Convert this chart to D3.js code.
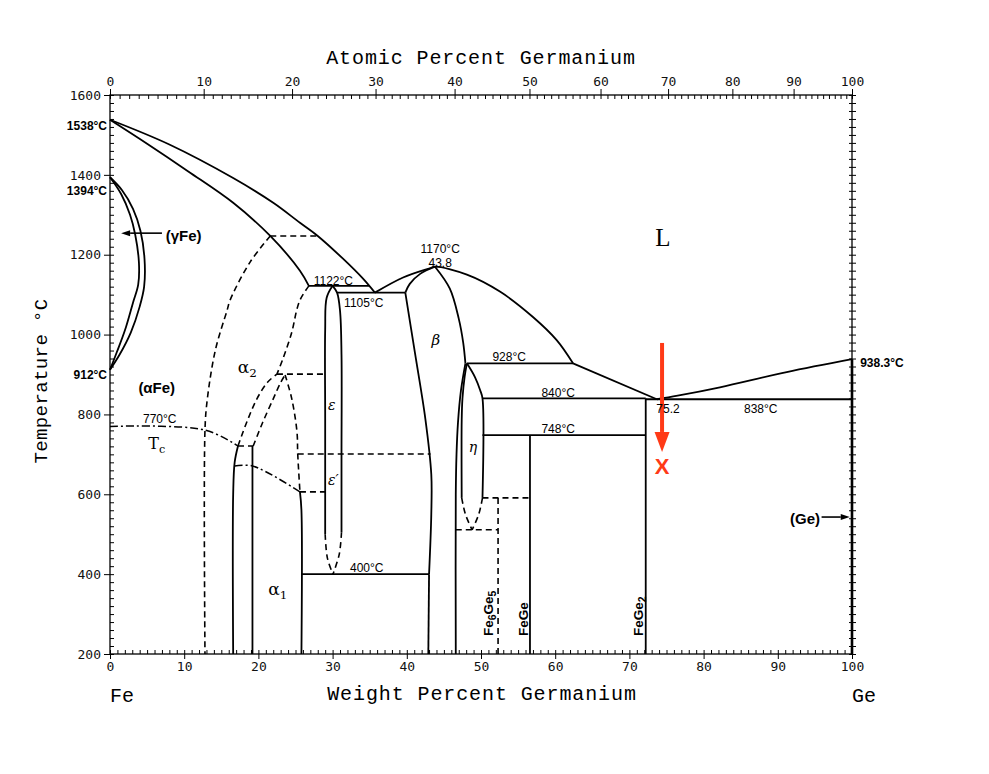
<!DOCTYPE html>
<html><head><meta charset="utf-8">
<script src="https://cdn.jsdelivr.net/npm/d3@7"></script>
<style>body{margin:0;background:#fff;} svg{display:block}</style>
</head><body><svg id="c" width="989" height="774"></svg>
<script>
// ---------- axis ticks ----------
const wtTicks = [0,10,20,30,40,50,60,70,80,90,100];
const atTicks = [0,10,20,30,40,50,60,70,80,90,100];
const tempTicks = [200,400,600,800,1000,1200,1400,1600];

// ---------- phase boundaries : [wt% Ge, °C] ----------
const liquidusFe   = [[0,1538],[8,1476],[16.6,1392],[22,1330],[25.6,1280],[28.0,1247],[31.4,1190],[34.1,1140],[35.7,1105]];
const solidusFe    = [[0,1538],[5,1478],[10.6,1408],[16.6,1330],[21.6,1247],[25.6,1160],[26.8,1122]];
const gammaOuter   = [[0,1394],[1.6,1362],[3.1,1315],[4.1,1260],[4.65,1190],[4.6,1120],[4.0,1070],[2.8,1005],[1.3,950],[0,912]];
const gammaInner   = [[0,1394],[1.5,1352],[2.7,1300],[3.4,1250],[3.9,1180],[3.8,1125],[3.1,1080],[2.0,1010],[0.9,955],[0,912]];
const alphaA       = [[21.6,1247],[18.9,1182],[16.2,1087],[15.8,1062],[14.2,961],[13.1,836],[12.8,761],[12.8,200]];
const alphaB       = [[26.8,1122],[25.7,1090],[25.2,1064],[24.5,1006],[23.3,939],[22.5,901]];
const alphaC1      = [[17.25,721],[18.5,784],[19.8,839],[21.2,880],[22.5,901]];
const alphaC2      = [[19.3,721],[20.6,781],[22.0,839],[23.0,880],[23.6,899]];
const alphaD       = [[23.6,899],[24.5,839],[25.2,756],[25.3,701],[25.6,606]];
const alpha1Right  = [[25.6,606],[25.8,560],[25.8,200]];
const alpha2Left   = [[16.6,200],[16.6,600],[16.8,680],[17.25,721]];
const alpha2Right  = [[19.2,200],[19.2,721]];
const tcLine1      = [[0,770],[12.8,761],[17.25,721]];
const tcLine2      = [[16.8,671],[19.2,671],[25.6,606]];
const iso1247      = [[21.6,1247],[28.0,1247]];
const iso1122      = [[26.8,1122],[34.9,1122]];
const iso1105      = [[30.6,1105],[39.8,1105]];
const iso901       = [[22.5,901],[29.0,901]];
const iso721       = [[17.25,721],[19.3,721]];
const iso701       = [[25.3,701],[43.2,701]];
const iso606       = [[25.6,606],[29.0,606]];
const iso400       = [[25.8,400],[43.0,400]];
const epsLeft      = [[30.0,1122],[29.2,1092],[29.0,1012],[29.0,790],[29.0,500]];
const epsLeftLow   = [[29.0,500],[29.3,440],[30.05,400]];
const epsRight     = [[30.0,1122],[30.6,1105],[31.0,1060],[31.2,950],[31.2,700],[31.2,505]];
const epsRightLow  = [[31.2,505],[30.9,450],[30.05,400]];
const betaSolidus  = [[39.8,1105],[40.4,1127],[41.8,1152],[43.8,1170]];
const betaLeft     = [[39.8,1105],[41.1,954],[42.5,789],[43.3,650],[43.3,550],[43.0,400]];
const betaLeftLow  = [[43.0,400],[42.9,200]];
const liquidusMid  = [[35.7,1105],[39.5,1143],[43.1,1166],[43.8,1170],[48.1,1150],[52.6,1107],[57.0,1044],[60.2,986],[62.4,928]];
const betaRight    = [[43.8,1170],[45.8,1115],[47.0,1040],[47.6,980],[47.9,928]];
const betaEta      = [[47.9,928],[47.3,860],[46.9,780],[46.7,700],[46.6,600],[46.6,200]];
const etaLeft      = [[48.1,928],[47.8,895],[47.5,840],[47.4,786],[47.4,591]];
const etaLeftLow   = [[47.4,591],[47.9,550],[48.8,511]];
const etaRight     = [[48.1,928],[49.2,893],[49.9,860],[50.2,840],[50.2,591]];
const etaRightLow  = [[50.2,591],[49.7,550],[48.8,511]];
const iso928       = [[48.1,928],[62.4,928]];
const liquidusEut  = [[62.4,928],[73.7,838]];
const liquidusGe   = [[73.7,838],[76.5,847],[82.2,868],[91.2,906],[100,938.3]];
const iso840       = [[50.2,840],[72.2,840]];
const iso838       = [[72.2,838],[100,838]];
const iso748       = [[50.2,748],[72.2,748]];
const iso591       = [[50.2,591],[56.6,591]];
const iso511       = [[46.6,511],[52.3,511]];
const fe6ge5Line   = [[52.3,591],[52.3,200]];
const feGeLine     = [[56.6,748],[56.6,200]];
const feGe2Line    = [[72.2,840],[72.2,200]];
const geLine       = [[100,938.3],[100,200]];

// annotation arrows
const gammaArrow = [[7.0,1254],[1.5,1254]];
const geArrow    = [[95.9,543],[99.7,543]];
const redArrow   = [[74.4,979],[74.4,706]];
const redMark    = [74.4,652];

// ---------- drawing ----------
const svg = d3.select('#c');
const X0=110, X1=852, Y0=95, Y1=654;
const x = d3.scaleLinear().domain([0,100]).range([X0,X1]);
const y = d3.scaleLinear().domain([200,1600]).range([Y1,Y0]);
const MFe=55.845, MGe=72.63;
const atToWt = a => a===0?0:(a===100?100:100*a*MGe/(a*MGe+(100-a)*MFe));

const tickFont = "'DejaVu Sans Mono', monospace";
const titleFont = "'Liberation Mono', monospace";
const lblFont = "'Liberation Sans', Arial, sans-serif";

// frame
svg.append('rect').attr('x',X0).attr('y',Y0).attr('width',X1-X0).attr('height',Y1-Y0)
  .attr('fill','none').attr('stroke','#000').attr('stroke-width',1.3);

function styleAxis(g){ g.select('.domain').remove(); g.selectAll('line').attr('stroke','#000').attr('stroke-width',1);
  g.selectAll('text').attr('font-family',tickFont).attr('font-size',13).attr('fill','#111'); }

// bottom
svg.append('g').attr('transform',`translate(0,${Y1})`)
  .call(d3.axisBottom(x).tickValues(d3.range(0,101,1)).tickSize(-4).tickFormat('')).call(styleAxis);
svg.append('g').attr('transform',`translate(0,${Y1})`)
  .call(d3.axisBottom(x).tickValues(wtTicks).tickSize(5).tickPadding(3).tickFormat(d3.format('d'))).call(styleAxis);
// top (atomic percent)
svg.append('g').attr('transform',`translate(0,${Y0})`)
  .call(d3.axisTop(x).tickValues(d3.range(0,101,1).map(atToWt)).tickSize(-4).tickFormat('')).call(styleAxis);
svg.append('g').attr('transform',`translate(0,${Y0})`)
  .call(d3.axisTop(x).tickValues(atTicks.map(atToWt)).tickSize(6).tickPadding(3)
     .tickFormat((d,i)=>atTicks[i])).call(styleAxis);
// left
svg.append('g').attr('transform',`translate(${X0},0)`)
  .call(d3.axisLeft(y).tickValues(d3.range(200,1601,20)).tickSize(-4).tickFormat('')).call(styleAxis);
svg.append('g').attr('transform',`translate(${X0},0)`)
  .call(d3.axisLeft(y).tickValues(tempTicks).tickSize(6).tickPadding(3).tickFormat(d3.format('d'))).call(styleAxis);
// right
svg.append('g').attr('transform',`translate(${X1},0)`)
  .call(d3.axisRight(y).tickValues(d3.range(200,1601,20)).tickSize(4).tickFormat('')).call(styleAxis);
svg.append('g').attr('transform',`translate(${X1},0)`)
  .call(d3.axisLeft(y).tickValues(d3.range(200,1601,20)).tickSize(3).tickFormat('')).call(styleAxis);

// titles
svg.append('text').attr('x',481).attr('y',64).attr('text-anchor','middle').attr('font-family',titleFont)
  .attr('font-size',20).attr('letter-spacing',0.9).text('Atomic Percent Germanium');
svg.append('text').attr('x',482).attr('y',700).attr('text-anchor','middle').attr('font-family',titleFont)
  .attr('font-size',20).attr('letter-spacing',0.9).text('Weight Percent Germanium');
svg.append('text').attr('transform','translate(47,381) rotate(-90)').attr('text-anchor','middle').attr('font-family',titleFont)
  .attr('font-size',19).attr('letter-spacing',0.4).text('Temperature °C');
svg.append('text').attr('x',X0).attr('y',702).attr('font-family',titleFont).attr('font-size',20).text('Fe');
svg.append('text').attr('x',X1).attr('y',702).attr('font-family',titleFont).attr('font-size',20).text('Ge');

// boundaries
const line = d3.line().x(d=>x(d[0])).y(d=>y(d[1])).curve(d3.curveCatmullRom.alpha(0.5));
const solid = [liquidusFe, solidusFe, gammaOuter, gammaInner, alpha1Right, alpha2Left, alpha2Right,
  iso1122, iso1105, iso400, epsLeft, epsRight, betaSolidus, betaLeft, betaLeftLow, liquidusMid, betaRight,
  betaEta, etaLeft, etaRight, iso928, liquidusEut, liquidusGe, iso840, iso838, iso748, feGeLine, feGe2Line];
const dashed = [alphaA, alphaB, alphaC1, alphaC2, alphaD, iso1247, iso901, iso721, iso701, iso606,
  epsLeftLow, epsRightLow, etaLeftLow, etaRightLow, iso591, iso511, fe6ge5Line];
const dashdot = [tcLine1, tcLine2];
const g = svg.append('g').attr('fill','none').attr('stroke','#000').attr('stroke-linejoin','round');
g.selectAll('.s').data(solid).join('path').attr('d',line).attr('stroke-width',1.8);
g.selectAll('.d').data(dashed).join('path').attr('d',line).attr('stroke-width',1.6).attr('stroke-dasharray','6,4');
g.selectAll('.dd').data(dashdot).join('path').attr('d',line).attr('stroke-width',1.5).attr('stroke-dasharray','8,3,2,3');
g.append('path').attr('d',line(geLine)).attr('stroke-width',2.6);

// small arrows
function arrow(pts, color, w, head){
  const [a,b]=pts; const x1=x(a[0]),y1=y(a[1]),x2=x(b[0]),y2=y(b[1]);
  const ang=Math.atan2(y2-y1,x2-x1); const L=head[0], W=head[1];
  const bx=x2-L*Math.cos(ang), by=y2-L*Math.sin(ang);
  svg.append('line').attr('x1',x1).attr('y1',y1).attr('x2',bx).attr('y2',by).attr('stroke',color).attr('stroke-width',w);
  const px=-Math.sin(ang)*W, py=Math.cos(ang)*W;
  svg.append('polygon').attr('points',`${x2},${y2} ${bx+px},${by+py} ${bx-px},${by-py}`).attr('fill',color);
}
arrow(gammaArrow,'#000',1.6,[9,3]);
arrow(geArrow,'#000',1.6,[9,3]);
arrow(redArrow,'#ff3a17',4,[20,7.5]);
svg.append('text').attr('x',x(redMark[0])).attr('y',y(redMark[1])).attr('text-anchor','middle')
  .attr('font-family',lblFont).attr('font-weight','bold').attr('font-size',22).attr('fill','#ff3a17').text('X');

// labels
const labels = [
  ['1538°C',-0.4,1512,'end',12,'bold'],
  ['1394°C',-0.4,1350,'end',12,'bold'],
  ['912°C',-0.4,889,'end',12,'bold'],
  ['938.3°C',101.1,918,'start',12,'bold'],
  ['1122°C',30.1,1125,'middle',12,'normal'],
  ['1105°C',34.2,1069,'middle',12,'normal'],
  ['1170°C',44.5,1204,'middle',12,'normal'],
  ['43.8',44.5,1170,'middle',12,'normal'],
  ['928°C',53.8,934,'middle',12,'normal'],
  ['840°C',60.4,844,'middle',12,'normal'],
  ['748°C',60.4,753,'middle',12,'normal'],
  ['838°C',87.7,804,'middle',12,'normal'],
  ['75.2',75.2,804,'middle',12,'normal'],
  ['400°C',34.6,405,'middle',12,'normal'],
  ['770°C',6.7,779,'middle',12,'normal'],
  ['(αFe)',6.3,854,'middle',15,'bold'],
  ['(γFe)',7.5,1234,'start',15,'bold'],
  ['(Ge)',95.7,526,'end',15,'bold']
];
svg.append('g').selectAll('text').data(labels).join('text')
  .attr('x',d=>x(d[1])).attr('y',d=>y(d[2])).attr('text-anchor',d=>d[3])
  .attr('font-family',lblFont).attr('font-size',d=>d[4]).attr('font-weight',d=>d[5]).text(d=>d[0]);

// phase symbols
function sym(txt, sub, wt, T, size, italic){
  const t=svg.append('text').attr('x',x(wt)).attr('y',y(T)).attr('font-family',"'DejaVu Serif', serif")
   .attr('font-size',size).attr('text-anchor','middle');
  t.append('tspan').attr('font-style',italic?'italic':'normal').text(txt);
  if(sub) t.append('tspan').attr('font-size',size*0.7).attr('dy',4).attr('font-style','normal').text(sub);
}
sym('α','2',18.5,904,17,false);
sym('α','1',22.6,348,17,false);
sym('β',null,43.9,974,15,true);
sym('ε',null,29.9,811,14,true);
sym('ε′',null,30.1,623,14,true);
sym('η',null,48.9,706,14,true);
sym('T','c',6.3,713,16,false);
svg.append('text').attr('x',x(74.5)).attr('y',y(1222)).attr('text-anchor','middle')
  .attr('font-family',"'Liberation Serif', serif").attr('font-size',25).text('L');

// compound labels (rotated)
function comp(parts, wt){
  const t=svg.append('text').attr('transform',`translate(${x(wt)+5},${y(200)-18}) rotate(-90)`)
    .attr('font-family',lblFont).attr('font-weight','bold').attr('font-size',13.5);
  parts.forEach(p=>{ const s=t.append('tspan').text(p[0]); if(p[1]) s.attr('font-size',10.5).attr('dy',3); else s.attr('dy',p[2]||0); });
}
comp([['Fe'],['6',1],['Ge',0,-3],['5',1]], 51.0);
comp([['FeGe']], 55.6);
comp([['FeGe'],['2',1]], 71.2);
</script></body></html>
